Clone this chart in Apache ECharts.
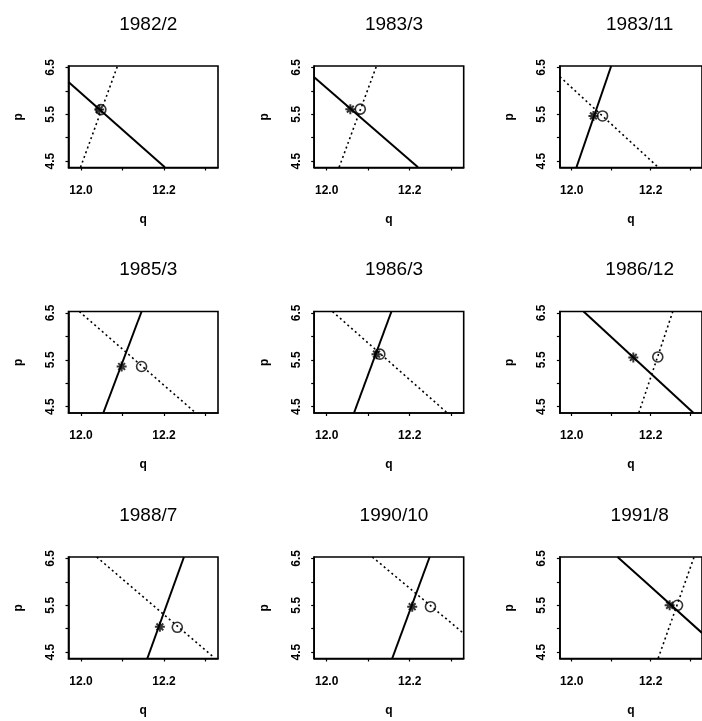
<!DOCTYPE html>
<html>
<head>
<meta charset="utf-8">
<script src="https://cdn.jsdelivr.net/npm/echarts@6/dist/echarts.min.js"></script>
<style>
  html, body { margin: 0; padding: 0; background: #fff; }
  #chart { width: 702px; height: 721px; }
</style>
</head>
<body>
<div id="chart"></div>
<script>
// Panel titles (year/month)
const titles = ['1982/2', '1983/3', '1983/11', '1985/3', '1986/3', '1986/12', '1988/7', '1990/10', '1991/8'];

// Solid curve in each panel, as [q, p] points
const solidCurve = [
  [[11.970, 6.19], [12.202, 4.37]],
  [[11.970, 6.29], [12.220, 4.37]],
  [[12.012, 4.37], [12.100, 6.53]],
  [[12.054, 4.37], [12.146, 6.53]],
  [[12.066, 4.37], [12.156, 6.53]],
  [[12.030, 6.53], [12.308, 4.37]],
  [[12.160, 4.37], [12.248, 6.53]],
  [[12.158, 4.37], [12.248, 6.53]],
  [[12.116, 6.53], [12.184, 6.02], [12.330, 4.91]]
];

// Dotted curve in each panel, as [q, p] points
const dottedCurve = [
  [[11.999, 4.37], [12.088, 6.53]],
  [[12.030, 4.37], [12.120, 6.53]],
  [[11.970, 6.30], [12.219, 4.37]],
  [[11.996, 6.53], [12.276, 4.37]],
  [[12.014, 6.53], [12.290, 4.37]],
  [[12.170, 4.37], [12.256, 6.53]],
  [[12.038, 6.53], [12.320, 4.39]],
  [[12.110, 6.53], [12.330, 4.90]],
  [[12.219, 4.37], [12.310, 6.53]]
];

// Asterisk point and circle point in each panel
const starPoint = [
  [12.044, 5.60], [12.057, 5.61], [12.055, 5.465], [12.098, 5.357], [12.120, 5.62],
  [12.156, 5.55], [12.190, 5.04], [12.206, 5.47], [12.248, 5.50]
];
const circlePoint = [
  [12.048, 5.60], [12.081, 5.61], [12.078, 5.465], [12.146, 5.357], [12.128, 5.62],
  [12.218, 5.56], [12.232, 5.03], [12.250, 5.47], [12.268, 5.50]
];

// Axis ticks and labels
const qTicks = [12.0, 12.1, 12.2, 12.3];
const qLabels = [12.0, 12.2];
const pTicks = [4.5, 5.0, 5.5, 6.0, 6.5];
const pLabels = [4.5, 5.5, 6.5];

const FONT = "'Liberation Sans', Arial, Helvetica, sans-serif";
const chart = echarts.init(document.getElementById('chart'), null, { renderer: 'canvas' });

// Panel layout
const gridLeft0 = 68.5, gridTop0 = 66, colStep = 245.7, rowStep = 245.5;
const gridW = 149.5, gridH = 101.5;

const grids = [], xAxes = [], yAxes = [], series = [], titleList = [];
const asterisk = 'path://M5,0L5,10M0,5L10,5M1.6,1.6L8.4,8.4M1.6,8.4L8.4,1.6';
const ring = 'path://M10,5A5,5,0,1,1,0,5A5,5,0,1,1,10,5Z';

titles.forEach((t, i) => {
  const row = Math.floor(i / 3), col = i % 3;
  const left = gridLeft0 + col * colStep;
  const top = gridTop0 + row * rowStep;
  grids.push({
    left: left, top: top, width: gridW, height: gridH,
    show: true, borderColor: '#000', borderWidth: 1.6, backgroundColor: 'transparent'
  });
  titleList.push({
    text: t, left: left + gridW / 2, top: top - 56, textAlign: 'center',
    textStyle: { fontFamily: FONT, fontSize: 19, fontWeight: 'normal', color: '#000' }
  });
  xAxes.push({
    type: 'value', gridIndex: i, min: 11.97, max: 12.33,
    name: 'q', nameLocation: 'middle', nameGap: 46,
    nameTextStyle: { fontFamily: FONT, fontSize: 12, fontWeight: 'bold', color: '#000' },
    axisLine: { show: true, lineStyle: { color: '#000', width: 1.6 } },
    axisTick: { show: true, inside: false, length: 3, customValues: qTicks, lineStyle: { color: '#000', width: 1.2 } },
    axisLabel: {
      show: true, customValues: qLabels, margin: 17,
      fontFamily: FONT, fontSize: 12, fontWeight: 'bold', color: '#000',
      formatter: v => v.toFixed(1)
    },
    splitLine: { show: false }
  });
  yAxes.push({
    type: 'value', gridIndex: i, min: 4.365, max: 6.53,
    name: 'p', nameLocation: 'middle', nameGap: 44,
    nameTextStyle: { fontFamily: FONT, fontSize: 12, fontWeight: 'bold', color: '#000' },
    axisLine: { show: true, lineStyle: { color: '#000', width: 1.6 } },
    axisTick: { show: true, inside: false, length: 3, customValues: pTicks, lineStyle: { color: '#000', width: 1.2 } },
    axisLabel: {
      show: true, customValues: pLabels, margin: 12, rotate: 90,
      fontFamily: FONT, fontSize: 12, fontWeight: 'bold', color: '#000',
      formatter: v => v.toFixed(1)
    },
    splitLine: { show: false }
  });
  series.push({
    type: 'line', xAxisIndex: i, yAxisIndex: i, data: solidCurve[i],
    showSymbol: false, silent: true, clip: true,
    lineStyle: { color: '#000', width: 2, type: 'solid' }
  });
  series.push({
    type: 'line', xAxisIndex: i, yAxisIndex: i, data: dottedCurve[i],
    showSymbol: false, silent: true, clip: true,
    lineStyle: { color: '#000', width: 1.6, type: [2, 3] }
  });
  series.push({
    type: 'scatter', xAxisIndex: i, yAxisIndex: i, data: [circlePoint[i]],
    symbol: ring, symbolSize: 10, silent: true,
    itemStyle: { color: 'rgba(0,0,0,0)', borderColor: '#000', borderWidth: 1.6 }
  });
  series.push({
    type: 'scatter', xAxisIndex: i, yAxisIndex: i, data: [starPoint[i]],
    symbol: asterisk, symbolSize: 10, silent: true,
    itemStyle: { color: 'rgba(0,0,0,0)', borderColor: '#000', borderWidth: 2 }
  });
});

chart.setOption({
  animation: false,
  backgroundColor: '#fff',
  title: titleList,
  grid: grids,
  xAxis: xAxes,
  yAxis: yAxes,
  series: series
});
</script>
</body>
</html>
